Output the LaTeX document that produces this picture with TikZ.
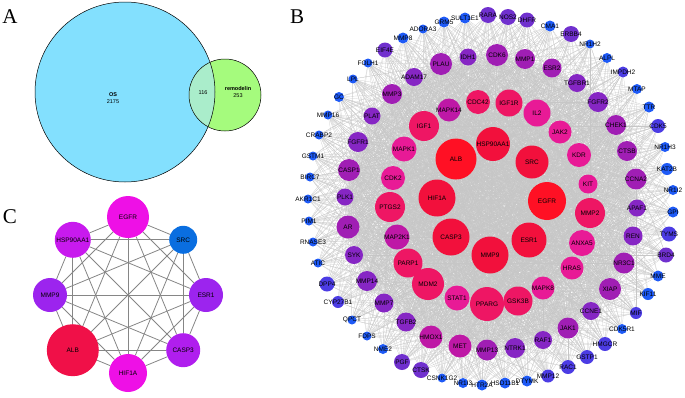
\documentclass[tikz,border=0pt]{standalone}
\usepackage{fontspec}
\setmainfont{Liberation Sans}
\newfontfamily\letterfont{Liberation Serif}
\usetikzlibrary{backgrounds}

\definecolor{osblue}{HTML}{83E0FE}
\definecolor{remgreen}{HTML}{A5FB7D}
\definecolor{overlapc}{HTML}{AAEDCB}
\definecolor{redA}{HTML}{FF1024}
\definecolor{redB}{HTML}{F2103C}
\definecolor{pinkA}{HTML}{EE1664}
\definecolor{pinkB}{HTML}{E81A96}
\definecolor{plumA}{HTML}{BE18A6}
\definecolor{plumC}{HTML}{A01EB4}
\definecolor{plumB}{HTML}{8626C4}
\definecolor{violA}{HTML}{7030CE}
\definecolor{violB}{HTML}{4C3CE4}
\definecolor{blueA}{HTML}{1E5AF6}
\definecolor{cMag}{HTML}{EE10E6}
\definecolor{cPlum}{HTML}{C81AEE}
\definecolor{cViol}{HTML}{9C24EE}
\definecolor{cCasp}{HTML}{B01EEE}
\definecolor{cBlue}{HTML}{0A6EE0}
\definecolor{cRed}{HTML}{F01048}

\newbox\genebox
\tikzset{
  gene/.style 2 args={circle, inner sep=0pt, minimum size=#1, fill=#2,
    font=\fontsize{6.5}{7}\selectfont,
    execute at begin node={\setbox\genebox\hbox\bgroup},
    execute at end node={\egroup\hbox to 0pt{\hss\box\genebox\hss}}},
  ppi/.style={draw=gray!45, line width=0.2pt},
  kedge/.style={draw=gray!95, line width=0.8pt},
  panel/.style={font=\letterfont\fontsize{21}{21}\selectfont, inner sep=0pt},
  vtext/.style={font=\fontsize{5.5}{6.5}\selectfont, align=center, inner sep=0pt}
}

\def\hubs{ALB,HSP90AA1,SRC,EGFR,ESR1,MMP9,CASP3,HIF1A,IGF1,MAPK14,CDC42,IGF1R,IL2,JAK2,KDR,KIT,MMP2,ANXA5,HRAS,MAPK8,GSK3B,PPARG,STAT1,MDM2,PARP1,MAP2K1,PTGS2,CDK2,MAPK1}
\def\midring{PLAU,IDH1,CDK6,MMP1,ESR2,TGFBR1,FGFR2,CHEK1,CTSB,CCNA2,APAF1,REN,NR3C1,XIAP,CCNE1,JAK1,RAF1,NTRK1,MMP13,MET,HMOX1,TGFB2,MMP7,MMP14,SYK,AR,PLK1,CASP1,FGFR1,PLAT,MMP3,ADAM17}
\def\outring{SULT1E1,RARA,NOS2,DHFR,CMA1,ERBB4,NR1H2,ALPL,IMPDH2,MTAP,TTR,CDK5,NR1H3,KAT2B,NR1I2,GPI,TYMS,BRD4,MME,KIF11,MIF,CDK5R1,HMGCR,GSTP1,RAC1,MMP12,DTYMK,HSD11B1,HTR2A,NR1I3,CSNK1G2,CTSK,PGF,NME2,FDPS,QPCT,CYP27B1,DPP4,ATIC,RNASE3,PIM1,AKR1C1,BIRC7,GSTM1,CRABP2,MMP16,GC,LPL,FOLH1,EIF4E,MMP8,ADORA3,GRM5}
\def\cgenes{cEGFR,cSRC,cESR1,cCASP3,cHIF1A,cALB,cMMP9,cHSP}

\begin{document}
\begin{tikzpicture}[x=1pt,y=-1pt]
    \useasboundingbox (0,0) rectangle (685,397);

    % A
    \node[panel] (labA) at (10,17) {A};
    \fill[osblue] (125,92) circle [radius=90pt];
    \fill[remgreen] (225,95) circle [radius=36pt];
    \begin{scope}
        \clip (225,95) circle [radius=36pt];
        \fill[overlapc] (125,92) circle [radius=90pt];
    \end{scope}
    \draw[line width=0.5pt] (125,92) circle [radius=90pt];
    \draw[line width=0.5pt] (225,95) circle [radius=36pt];
    \node[vtext] (os) at (113,98) {\textbf{OS}\\2175};
    \node[vtext] (both) at (203,93) {116};
    \node[vtext] (rem) at (238,92) {\textbf{remodelin}\\253};

    % B
    \node[panel] (labB) at (297,17) {B};
    \node[gene={41}{redA}] (ALB) at (456,159) {ALB};
    \node[gene={34}{redB}] (HSP90AA1) at (493,144) {HSP90AA1};
    \node[gene={33}{redB}] (SRC) at (532,162) {SRC};
    \node[gene={38}{redA}] (EGFR) at (547,201) {EGFR};
    \node[gene={35}{redB}] (ESR1) at (529,240) {ESR1};
    \node[gene={37}{redB}] (MMP9) at (490,255) {MMP9};
    \node[gene={37}{redB}] (CASP3) at (451,237) {CASP3};
    \node[gene={37}{redB}] (HIF1A) at (437,198) {HIF1A};

    \node[gene={30}{pinkA}] (IGF1) at (424,126) {IGF1};
    \node[gene={23}{plumA}] (MAPK14) at (449,110) {MAPK14};
    \node[gene={24}{pinkA}] (CDC42) at (478,102) {CDC42};
    \node[gene={27}{pinkA}] (IGF1R) at (509,103) {IGF1R};
    \node[gene={27}{pinkB}] (IL2) at (537,113) {IL2};
    \node[gene={23}{pinkB}] (JAK2) at (560,132) {JAK2};
    \node[gene={24}{pinkB}] (KDR) at (579,155) {KDR};
    \node[gene={19}{pinkB}] (KIT) at (588,184) {KIT};
    \node[gene={30}{pinkA}] (MMP2) at (590,213) {MMP2};
    \node[gene={26}{pinkB}] (ANXA5) at (582,243) {ANXA5};
    \node[gene={23}{pinkB}] (HRAS) at (572,268) {HRAS};
    \node[gene={23}{pinkB}] (MAPK8) at (543,288) {MAPK8};
    \node[gene={29}{pinkA}] (GSK3B) at (518,301) {GSK3B};
    \node[gene={34}{pinkA}] (PPARG) at (487,304) {PPARG};
    \node[gene={25}{pinkB}] (STAT1) at (457,298) {STAT1};
    \node[gene={32}{pinkA}] (MDM2) at (428,284) {MDM2};
    \node[gene={29}{pinkA}] (PARP1) at (408,263) {PARP1};
    \node[gene={25}{plumA}] (MAP2K1) at (397,237) {MAP2K1};
    \node[gene={30}{pinkA}] (PTGS2) at (390,207) {PTGS2};
    \node[gene={24}{pinkB}] (CDK2) at (393,178) {CDK2};
    \node[gene={25}{pinkB}] (MAPK1) at (404,149) {MAPK1};

    \node[gene={22}{plumC}] (PLAU) at (441,64) {PLAU};
    \node[gene={17}{plumB}] (IDH1) at (468,57) {IDH1};
    \node[gene={22}{plumC}] (CDK6) at (497,55) {CDK6};
    \node[gene={20}{plumC}] (MMP1) at (525,59) {MMP1};
    \node[gene={19}{plumC}] (ESR2) at (552,68) {ESR2};
    \node[gene={18}{plumB}] (TGFBR1) at (577,83) {TGFBR1};
    \node[gene={20}{plumB}] (FGFR2) at (598,102) {FGFR2};
    \node[gene={20}{plumC}] (CHEK1) at (616,125) {CHEK1};
    \node[gene={20}{plumC}] (CTSB) at (627,151) {CTSB};
    \node[gene={21}{plumC}] (CCNA2) at (636,179) {CCNA2};
    \node[gene={17}{plumB}] (APAF1) at (637,208) {APAF1};
    \node[gene={19}{plumB}] (REN) at (633,236) {REN};
    \node[gene={21}{plumC}] (NR3C1) at (624,263) {NR3C1};
    \node[gene={22}{plumC}] (XIAP) at (610,289) {XIAP};
    \node[gene={18}{plumB}] (CCNE1) at (591,311) {CCNE1};
    \node[gene={21}{plumC}] (JAK1) at (568,328) {JAK1};
    \node[gene={18}{plumB}] (RAF1) at (543,340) {RAF1};
    \node[gene={20}{plumB}] (NTRK1) at (515,348) {NTRK1};
    \node[gene={21}{plumC}] (MMP13) at (487,350) {MMP13};
    \node[gene={23}{plumA}] (MET) at (460,346) {MET};
    \node[gene={23}{plumA}] (HMOX1) at (431,337) {HMOX1};
    \node[gene={19}{plumB}] (TGFB2) at (406,322) {TGFB2};
    \node[gene={19}{plumB}] (MMP7) at (384,303) {MMP7};
    \node[gene={20}{plumB}] (MMP14) at (367,281) {MMP14};
    \node[gene={18}{plumB}] (SYK) at (354,255) {SYK};
    \node[gene={23}{plumC}] (AR) at (348,227) {AR};
    \node[gene={17}{plumB}] (PLK1) at (345,197) {PLK1};
    \node[gene={22}{plumC}] (CASP1) at (349,170) {CASP1};
    \node[gene={20}{plumB}] (FGFR1) at (358,142) {FGFR1};
    \node[gene={17}{plumB}] (PLAT) at (372,116) {PLAT};
    \node[gene={20}{plumC}] (MMP3) at (392,94) {MMP3};
    \node[gene={18}{plumB}] (ADAM17) at (414,77) {ADAM17};

    \node[gene={11}{blueA}] (SULT1E1) at (465,18) {SULT1E1};
    \node[gene={16}{violA}] (RARA) at (488,15) {RARA};
    \node[gene={16}{violA}] (NOS2) at (508,17) {NOS2};
    \node[gene={15}{violA}] (DHFR) at (527,20) {DHFR};
    \node[gene={11}{blueA}] (CMA1) at (550,26) {CMA1};
    \node[gene={16}{violA}] (ERBB4) at (571,34) {ERBB4};
    \node[gene={9}{blueA}] (NR1H2) at (590,44) {NR1H2};
    \node[gene={10}{blueA}] (ALPL) at (607,58) {ALPL};
    \node[gene={11}{violB}] (IMPDH2) at (623,72) {IMPDH2};
    \node[gene={10}{blueA}] (MTAP) at (637,89) {MTAP};
    \node[gene={11}{blueA}] (TTR) at (649,107) {TTR};
    \node[gene={14}{violB}] (CDK5) at (658,126) {CDK5};
    \node[gene={10}{blueA}] (NR1H3) at (665,147) {NR1H3};
    \node[gene={12}{blueA}] (KAT2B) at (667,169) {KAT2B};
    \node[gene={10}{blueA}] (NR1I2) at (673,190) {NR1I2};
    \node[gene={11}{blueA}] (GPI) at (673,212) {GPI};
    \node[gene={15}{violB}] (TYMS) at (669,234) {TYMS};
    \node[gene={15}{violA}] (BRD4) at (666,255) {BRD4};
    \node[gene={11}{blueA}] (MME) at (658,276) {MME};
    \node[gene={12}{blueA}] (KIF11) at (648,294) {KIF11};
    \node[gene={12}{violB}] (MIF) at (636,313) {MIF};
    \node[gene={10}{blueA}] (CDK5R1) at (622,329) {CDK5R1};
    \node[gene={14}{violB}] (HMGCR) at (605,344) {HMGCR};
    \node[gene={14}{violB}] (GSTP1) at (587,357) {GSTP1};
    \node[gene={14}{violB}] (RAC1) at (568,367) {RAC1};
    \node[gene={13}{violB}] (MMP12) at (548,376) {MMP12};
    \node[gene={11}{blueA}] (DTYMK) at (527,381) {DTYMK};
    \node[gene={11}{blueA}] (HSD11B1) at (505,383) {HSD11B1};
    \node[gene={11}{blueA}] (HTR2A) at (482,385) {HTR2A};
    \node[gene={10}{blueA}] (NR1I3) at (463,383) {NR1I3};
    \node[gene={9}{blueA}] (CSNK1G2) at (442,378) {CSNK1G2};
    \node[gene={16}{violA}] (CTSK) at (421,370) {CTSK};
    \node[gene={16}{violA}] (PGF) at (402,362) {PGF};
    \node[gene={10}{blueA}] (NME2) at (383,349) {NME2};
    \node[gene={9}{blueA}] (FDPS) at (367,336) {FDPS};
    \node[gene={9}{blueA}] (QPCT) at (352,320) {QPCT};
    \node[gene={12}{violB}] (CYP27B1) at (338,302) {CYP27B1};
    \node[gene={15}{violB}] (DPP4) at (327,284) {DPP4};
    \node[gene={9}{blueA}] (ATIC) at (318,263) {ATIC};
    \node[gene={9}{blueA}] (RNASE3) at (313,242) {RNASE3};
    \node[gene={9}{blueA}] (PIM1) at (309,221) {PIM1};
    \node[gene={9}{blueA}] (AKR1C1) at (308,199) {AKR1C1};
    \node[gene={9}{blueA}] (BIRC7) at (310,177) {BIRC7};
    \node[gene={9}{blueA}] (GSTM1) at (313,156) {GSTM1};
    \node[gene={9}{blueA}] (CRABP2) at (319,135) {CRABP2};
    \node[gene={9}{blueA}] (MMP16) at (328,115) {MMP16};
    \node[gene={10}{blueA}] (GC) at (339,97) {GC};
    \node[gene={9}{blueA}] (LPL) at (353,79) {LPL};
    \node[gene={9}{blueA}] (FOLH1) at (368,63) {FOLH1};
    \node[gene={15}{violA}] (EIF4E) at (385,50) {EIF4E};
    \node[gene={11}{blueA}] (MMP8) at (403,38) {MMP8};
    \node[gene={9}{blueA}] (ADORA3) at (423,29) {ADORA3};
    \node[gene={11}{blueA}] (GRM5) at (444,22) {GRM5};

    \begin{pgfonlayer}{background}
        \foreach \a [count=\i] in \hubs {
            \foreach \b [count=\j] in \hubs {
                \ifnum\j>\i \draw[ppi] (\a) -- (\b); \fi
            }
        }
        \foreach \a [count=\i] in \midring {
            \foreach \b in \hubs {\draw[ppi] (\a) -- (\b);}
            \foreach \b [count=\j] in \midring {
                \ifnum\j>\i \draw[ppi] (\a) -- (\b); \fi
            }
        }
        \foreach \a in \outring {
            \foreach \b in {ALB,HSP90AA1,SRC,EGFR,ESR1,MMP9,CASP3,HIF1A,IGF1,MMP2,PTGS2,PPARG,PLAU,CDK6,CHEK1,CCNA2,XIAP,JAK1,MET,HMOX1,AR,CASP1,MMP3} {
                \draw[ppi] (\a) -- (\b);
            }
        }
    \end{pgfonlayer}

    % C
    \node[panel] (labC) at (10,217) {C};
    \node[gene={42}{cMag}] (cEGFR) at (128,217) {EGFR};
    \node[gene={28}{cBlue}] (cSRC) at (183.2,239.8) {SRC};
    \node[gene={34}{cViol}] (cESR1) at (206,295) {ESR1};
    \node[gene={34}{cCasp}] (cCASP3) at (183.2,350.2) {CASP3};
    \node[gene={38}{cMag}] (cHIF1A) at (128,373) {HIF1A};
    \node[gene={52}{cRed}] (cALB) at (72.8,350.2) {ALB};
    \node[gene={34}{cViol}] (cMMP9) at (50,295) {MMP9};
    \node[gene={36}{cPlum}] (cHSP) at (72.8,239.8) {HSP90AA1};
    \begin{pgfonlayer}{background}
        \foreach \a [count=\i] in \cgenes {
            \foreach \b [count=\j] in \cgenes {
                \ifnum\j>\i \draw[kedge] (\a) -- (\b); \fi
            }
        }
    \end{pgfonlayer}
\end{tikzpicture}
\end{document}
